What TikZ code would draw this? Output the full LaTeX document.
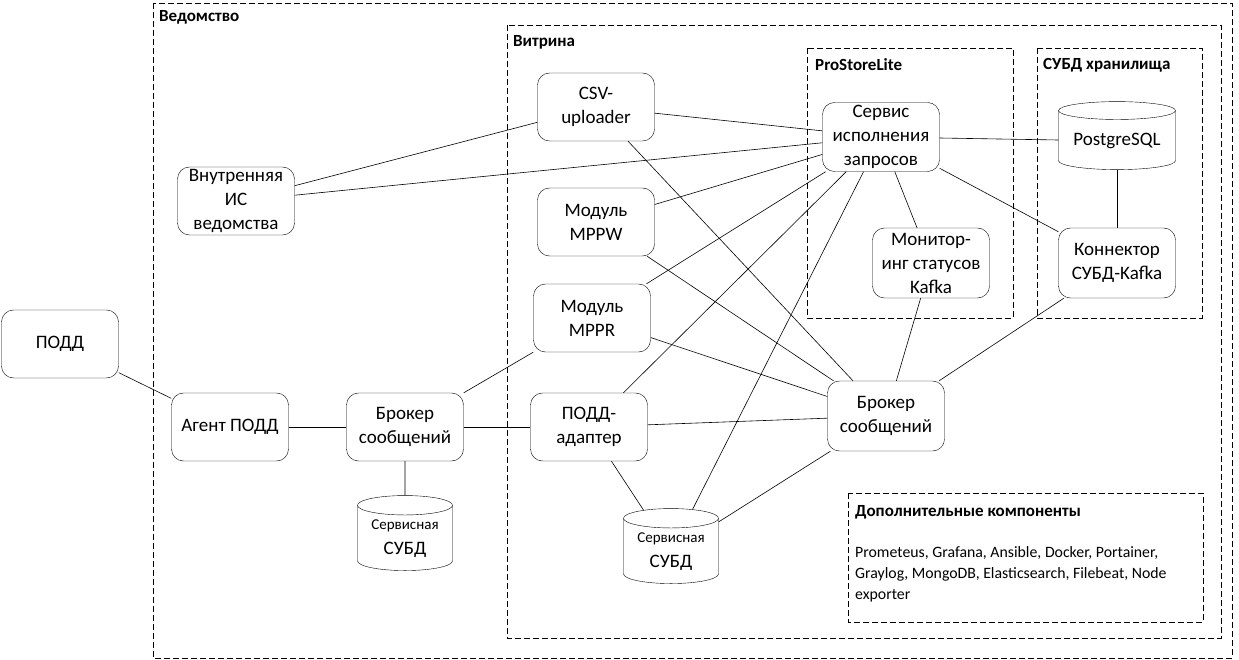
\documentclass[tikz,border=0pt]{standalone}
\usepackage{fontspec}
\setmainfont{Carlito}
\usetikzlibrary{shapes.geometric}
\begin{document}
\begin{tikzpicture}[x=1pt,y=-1pt,
  box/.style={draw,rounded corners=12pt,minimum width=117pt,minimum height=68pt,align=center,font=\fontsize{19}{24}\selectfont,inner sep=1pt},
  db/.style={draw,cylinder,shape border rotate=90,aspect=0.28,minimum width=95pt,minimum height=75pt,align=center,inner sep=1pt},
  frame/.style={draw,dashed,line width=0.8pt,dash pattern=on 6pt off 3pt},
  ttl/.style={anchor=north west,font=\bfseries\fontsize{17}{19}\selectfont,inner sep=0pt},
  ln/.style={line width=0.6pt}]
\useasboundingbox (0,0) rectangle (1239,660);
\draw[frame] (153,3) rectangle (1232,658);
\node[ttl] (t1) at (159,10) {Ведомство};
\draw[frame] (507,25) rectangle (1221,638);
\node[ttl] (t2) at (513,35) {Витрина};
\draw[frame] (807,48) rectangle (1013,318);
\node[ttl] (t3) at (815,58) {ProStoreLite};
\draw[frame] (1037,48) rectangle (1202,318);
\node[ttl] (t4) at (1043,58) {СУБД хранилища};
\draw[frame] (848,493) rectangle (1203,622);
\node[ttl] (t5) at (855,505) {Дополнительные компоненты};
\node[anchor=north west,align=left,font=\fontsize{15.8}{21}\selectfont,inner sep=0pt] (t6) at (855,546) {Prometeus, Grafana, Ansible, Docker, Portainer,\\Graylog, MongoDB, Elasticsearch, Filebeat, Node\\exporter};

\node[box] (podd) at (60,344) {ПОДД};
\node[box] (agent) at (230,427) {Агент ПОДД};
\node[box] (br1) at (405,427) {Брокер\\сообщений};
\node[db,font=\fontsize{15}{25}\selectfont] (db1) at (405,539) {Сервисная\\\fontsize{19}{25}\selectfont СУБД};
\node[box] (is) at (236,201) {Внутренняя\\ИС\\ведомства};
\node[box] (csv) at (596,107) {CSV-\\uploader};
\node[box] (mppw) at (596,222) {Модуль\\MPPW};
\node[box] (mppr) at (592,318) {Модуль\\MPPR};
\node[box] (pa) at (589,427) {ПОДД-\\адаптер};
\node[db,font=\fontsize{15}{25}\selectfont] (db2) at (671,552) {Сервисная\\\fontsize{19}{25}\selectfont СУБД};
\node[box,minimum height=69pt] (svc) at (881,137) {Сервис\\исполнения\\запросов};
\node[box,minimum height=70pt] (mon) at (931,263) {Монитор-\\инг статусов\\Kafka};
\node[box,minimum height=70pt] (br2) at (886,416) {Брокер\\сообщений};
\node[db,minimum width=117pt,minimum height=68pt,aspect=0.2,font=\fontsize{19}{24}\selectfont] (pg) at (1117,141) {PostgreSQL};
\node[box,minimum height=70pt] (con) at (1117,263) {Коннектор\\СУБД-Kafka};

\draw[ln] (podd) -- (agent);
\draw[ln] (agent) -- (br1);
\draw[ln] (br1) -- (db1);
\draw[ln] (br1) -- (mppr);
\draw[ln] (br1) -- (pa);
\draw[ln] (is) -- (csv);
\draw[ln] (is) -- (svc);
\draw[ln] (csv) -- (svc);
\draw[ln] (csv) -- (br2);
\draw[ln] (mppw) -- (svc);
\draw[ln] (mppw) -- (br2);
\draw[ln] (mppr) -- (svc);
\draw[ln] (mppr) -- (br2);
\draw[ln] (pa) -- (svc);
\draw[ln] (pa) -- (br2);
\draw[ln] (pa) -- (db2);
\draw[ln] (db2) -- (svc);
\draw[ln] (db2) -- (br2);
\draw[ln] (svc) -- (pg);
\draw[ln] (svc) -- (con);
\draw[ln] (svc) -- (mon);
\draw[ln] (mon) -- (br2);
\draw[ln] (pg) -- (con);
\draw[ln] (con) -- (br2);
\end{tikzpicture}
\end{document}
